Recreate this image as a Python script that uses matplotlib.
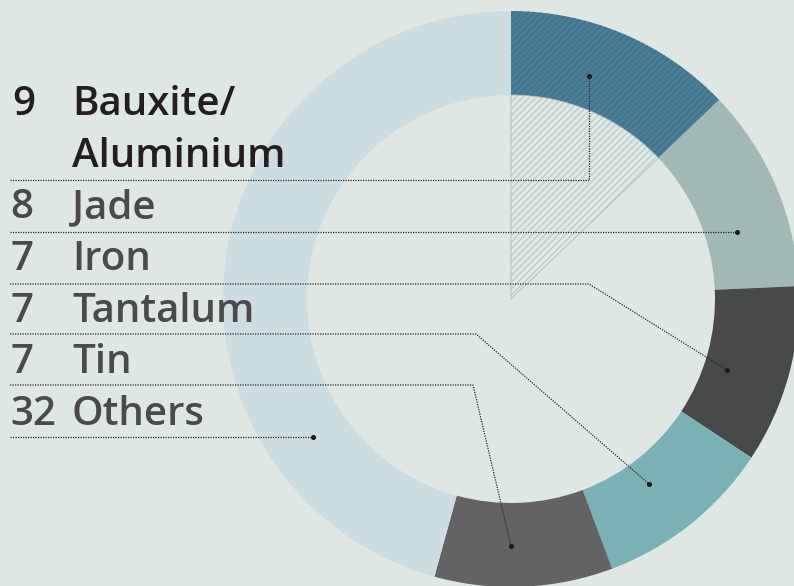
import matplotlib
matplotlib.use('Agg')
import matplotlib.pyplot as plt
from matplotlib.patches import Wedge

# Data
minerals = ['Bauxite/\nAluminium', 'Jade', 'Iron', 'Tantalum', 'Tin', 'Others']
counts = [9, 8, 7, 7, 7, 32]
colors = ['#4a7e97', '#a1b8b5', '#48494b', '#7ab1b5', '#636365', '#cddcdf']

# leader line geometry (pixel coords, y down): row line y, elbow x, tip point
row_y = [180, 232, 284, 334, 385, 437]
elbow_x = [589, None, 589, 476, 473, None]
tips = [(589, 76), (737, 232), (727, 370), (649, 484), (511, 546), (313, 437)]
baselines = [167, 218, 270, 322, 373, 425]

bg = '#dfe7e4'
W, H = 794, 586
cx, cy = 511, 299
r_out, r_in = 288, 204

plt.rcParams['hatch.linewidth'] = 0.6
fig = plt.figure(figsize=(W / 100, H / 100), dpi=100, facecolor=bg)
ax = fig.add_axes([0, 0, 1, 1])
ax.set_facecolor(bg)

# donut, clockwise from top (y axis is inverted below)
wedges, _ = ax.pie(counts, colors=colors, center=(cx, cy), radius=r_out,
                   startangle=-90, counterclock=True,
                   wedgeprops=dict(width=r_out - r_in, linewidth=0))

# hatch on first slice and on the inner wedge below it
t1 = -90
t2 = -90 + 360 * counts[0] / sum(counts)
ax.add_patch(Wedge((cx, cy), r_out, t1, t2, width=r_out - r_in,
                   facecolor='none', edgecolor='#3a6a80', linewidth=0,
                   hatch='/////'))
ax.add_patch(Wedge((cx, cy), r_in, t1, t2, facecolor='none',
                   edgecolor='#aebdbd', linewidth=0.6, hatch='/////'))

ax.set_xlim(0, W)
ax.set_ylim(H, 0)
ax.set_aspect('equal')
ax.axis('off')

# labels
font = 'Open Sans'
fs = 29
ax.text(12, 115, str(counts[0]), fontsize=fs, family=font, weight='semibold',
        color='#231f20', va='baseline')
ax.text(72, 115, 'Bauxite/', fontsize=fs, family=font, weight='semibold',
        color='#231f20', va='baseline')
ax.text(72, 167, 'Aluminium', fontsize=fs, family=font, weight='semibold',
        color='#231f20', va='baseline')
for i in range(1, len(minerals)):
    ax.text(10, baselines[i], str(counts[i]), fontsize=fs, family=font,
            weight='semibold', color='#4a4a4c', va='baseline')
    ax.text(72, baselines[i], minerals[i], fontsize=fs, family=font,
            weight='semibold', color='#4a4a4c', va='baseline')

# dotted leader lines
for y, ex, (tx, ty) in zip(row_y, elbow_x, tips):
    if ex is None:
        xs, ys = [10, tx], [y, ty]
    else:
        xs, ys = [10, ex, tx], [y, y, ty]
    ax.plot(xs, ys, color='#2a2a2a', linewidth=0.9, linestyle=(0, (1, 1)))
    ax.plot(tx, ty, 'o', color='#1a1a1a', markersize=2.6)

fig.savefig('out.png', dpi=100, facecolor=bg)
